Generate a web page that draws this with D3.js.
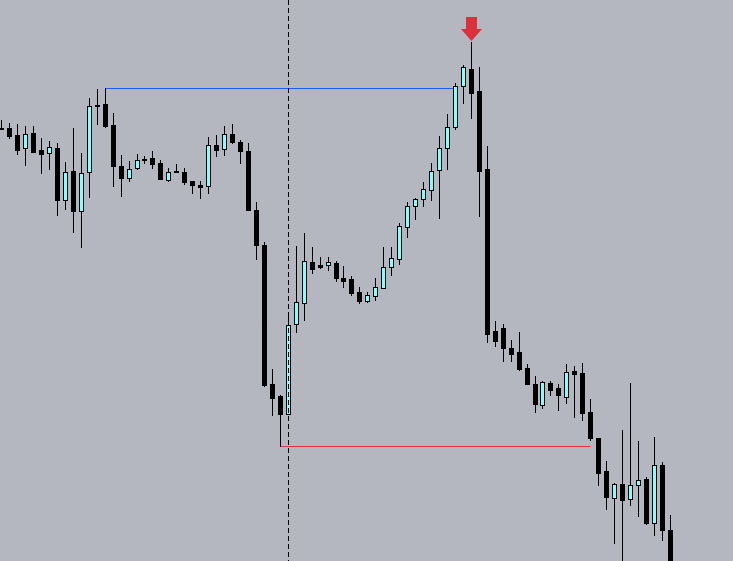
<!DOCTYPE html>
<html>
<head>
<meta charset="utf-8">
<script src="https://cdn.jsdelivr.net/npm/d3@7"></script>
<style>
  html, body { margin: 0; padding: 0; background: #b4b7c0; }
  svg { display: block; }
</style>
</head>
<body>
<div id="chart"></div>
<script>
// bar OHLC values (5 digit quotes)
var opens = [1.14325,1.14327,1.1426,1.14127,1.1428,1.1411,1.14077,1.1413,1.13607,1.139,
  1.13497,1.13887,1.14557,1.1457,1.1436,1.1395,1.13833,1.13927,1.14017,1.14033,
  1.1398,1.13813,1.139,1.1389,1.138,1.13763,1.13753,1.14157,1.14117,1.14267,
  1.14187,1.141,1.1351,1.1316,1.1177,1.1165,1.11473,1.12367,1.12577,1.12987,
  1.12957,1.12957,1.12977,1.1283,1.1282,1.1269,1.12597,1.12653,1.12727,1.12943,
  1.1302,1.13343,1.13553,1.13617,1.13713,1.13907,1.14127,1.14343,1.14747,1.14917,
  1.147,1.1392,1.123,1.1233,1.1213,1.1209,1.1193,1.1177,1.11563,1.1178,
  1.1173,1.1164,1.119,1.1188,1.1149,1.1123,1.109,1.10633,1.1077,1.10623,
  1.1076,1.1082,1.10383,1.1096,1.1031];
var highs = [1.1441,1.14383,1.1437,1.1435,1.1435,1.1423,1.142,1.1418,1.1399,1.1433,
  1.1408,1.1463,1.1472,1.14727,1.1448,1.1406,1.14,1.1407,1.14047,1.141,
  1.1401,1.1393,1.1397,1.13933,1.138,1.138,1.1424,1.1426,1.1435,1.1437,
  1.14207,1.14177,1.13587,1.13187,1.1192,1.1166,1.12477,1.1315,1.1328,1.13143,
  1.13037,1.13037,1.13,1.12947,1.1285,1.12743,1.1269,1.1283,1.1314,1.1314,
  1.13383,1.13587,1.13633,1.1379,1.13977,1.1425,1.1447,1.14777,1.1496,1.15187,
  1.14937,1.1415,1.124,1.1237,1.1221,1.1229,1.1197,1.1185,1.118,1.118,
  1.1177,1.1197,1.1195,1.1198,1.1162,1.1123,1.11,1.1078,1.1131,1.1178,
  1.112,1.1084,1.1124,1.1099,1.1046];
var lows = [1.14315,1.14233,1.14073,1.13963,1.1409,1.13883,1.13917,1.13463,1.13523,1.13293,
  1.13143,1.13637,1.14373,1.14343,1.13753,1.13653,1.13803,1.1392,1.13983,1.13933,
  1.13817,1.13803,1.13887,1.1377,1.1368,1.13633,1.1368,1.14053,1.1406,1.14183,
  1.13983,1.1351,1.13017,1.1175,1.11463,1.1115,1.1147,1.12293,1.1241,1.12883,
  1.12933,1.12913,1.12803,1.12743,1.1266,1.12583,1.1259,1.12613,1.12727,1.1286,
  1.1297,1.13243,1.1342,1.13553,1.13613,1.13433,1.13923,1.14317,1.14583,1.14433,
  1.13453,1.1219,1.1215,1.12,1.12,1.1191,1.1177,1.1149,1.1153,1.1166,
  1.1151,1.1158,1.1144,1.1141,1.1121,1.1076,1.1052,1.1018,1.0991,1.1056,
  1.1045,1.1037,1.1026,1.1021,1.0971];
var closes = [1.1432,1.14253,1.14113,1.14267,1.14093,1.14073,1.14137,1.13613,1.1389,1.13503,
  1.13877,1.1455,1.14557,1.14353,1.13953,1.13833,1.1392,1.14007,1.14017,1.13973,
  1.13823,1.1389,1.13887,1.13793,1.13763,1.13743,1.14157,1.14113,1.14267,1.14187,
  1.14103,1.13513,1.13163,1.1176,1.11633,1.11473,1.12357,1.12587,1.12997,1.12923,
  1.1294,1.12987,1.12833,1.12803,1.1268,1.126,1.12657,1.12737,1.12937,1.1303,
  1.13347,1.13547,1.13617,1.13717,1.13897,1.1413,1.14337,1.14747,1.14937,1.14683,
  1.13903,1.12273,1.122,1.1213,1.1207,1.1192,1.1177,1.1157,1.1179,1.1171,
  1.1166,1.1189,1.1187,1.1148,1.1123,1.1088,1.1064,1.1077,1.1061,1.1076,
  1.1081,1.10377,1.1096,1.1031,1.0981];

// marked bars
var highBar = 13, highEndBar = 57;   // blue level (high of bar 13)
var lowBar = 35, lowEndBar = 74;     // red level (low of bar 35)
var markerBar = 36;                  // dashed vertical
var arrowBar = 59;                   // sell arrow

var WIDTH = 733, HEIGHT = 561;
var STEP = 7.96;

var bars = opens.map(function(o, i){
	return {i: i, o: o, h: highs[i], l: lows[i], c: closes[i]};
});

var x = d3.scaleBand()
	.domain(d3.range(bars.length))
	.range([-2.28, -2.28 + bars.length * STEP]);
var y = d3.scaleLinear()
	.domain([1.1000, 1.1561])
	.range([HEIGHT, 0]);

function col(i){ return Math.round(x(i) + x.bandwidth() / 2 - 0.5); }
function py(v){ return Math.round(y(v)); }

var svg = d3.select("#chart").append("svg")
	.attr("width", WIDTH)
	.attr("height", HEIGHT)
	.style("background", "#b4b7c0");

// level lines
svg.append("line")
	.attr("x1", col(highBar) + 0.5).attr("x2", col(highEndBar) + 0.5)
	.attr("y1", py(highs[highBar]) + 0.5).attr("y2", py(highs[highBar]) + 0.5)
	.attr("stroke", "#1d5cff").attr("stroke-width", 1);
svg.append("line")
	.attr("x1", col(lowBar) + 0.5).attr("x2", col(lowEndBar) + 0.5)
	.attr("y1", py(lows[lowBar]) + 0.5).attr("y2", py(lows[lowBar]) + 0.5)
	.attr("stroke", "#f0303c").attr("stroke-width", 1);

var g = svg.append("g");
var candle = g.selectAll("g.candle")
	.data(bars)
	.enter().append("g")
	.attr("class", "candle");

candle.append("line")
	.attr("x1", function(d){ return col(d.i) + 0.5; })
	.attr("x2", function(d){ return col(d.i) + 0.5; })
	.attr("y1", function(d){ return py(d.h); })
	.attr("y2", function(d){ return py(d.l) + 1; })
	.attr("stroke", "#000").attr("stroke-width", 1);

candle.append("rect")
	.attr("x", function(d){ return col(d.i) - 2 + 0.5; })
	.attr("width", 4)
	.attr("y", function(d){ return py(Math.max(d.o, d.c)) + 0.5; })
	.attr("height", function(d){ return Math.max(1, py(Math.min(d.o, d.c)) - py(Math.max(d.o, d.c))); })
	.attr("fill", function(d){ return d.c > d.o ? "#80ffff" : "#000"; })
	.attr("stroke", "#000").attr("stroke-width", 1);

// dashed vertical marker
svg.append("line")
	.attr("x1", col(markerBar) + 0.5).attr("x2", col(markerBar) + 0.5)
	.attr("y1", 0).attr("y2", HEIGHT)
	.attr("stroke", "#000").attr("stroke-width", 1)
	.attr("stroke-dasharray", "5,3");

// down arrow above the top bar
var ax = col(arrowBar) + 0.5, ay = py(highs[arrowBar]) - 1;
svg.append("path")
	.attr("d", "M" + (ax - 5.5) + "," + (ay - 24) + "h11v12h5l-10.5,12l-10.5,-12h5z")
	.attr("fill", "#d9323d");
</script>
</body>
</html>
